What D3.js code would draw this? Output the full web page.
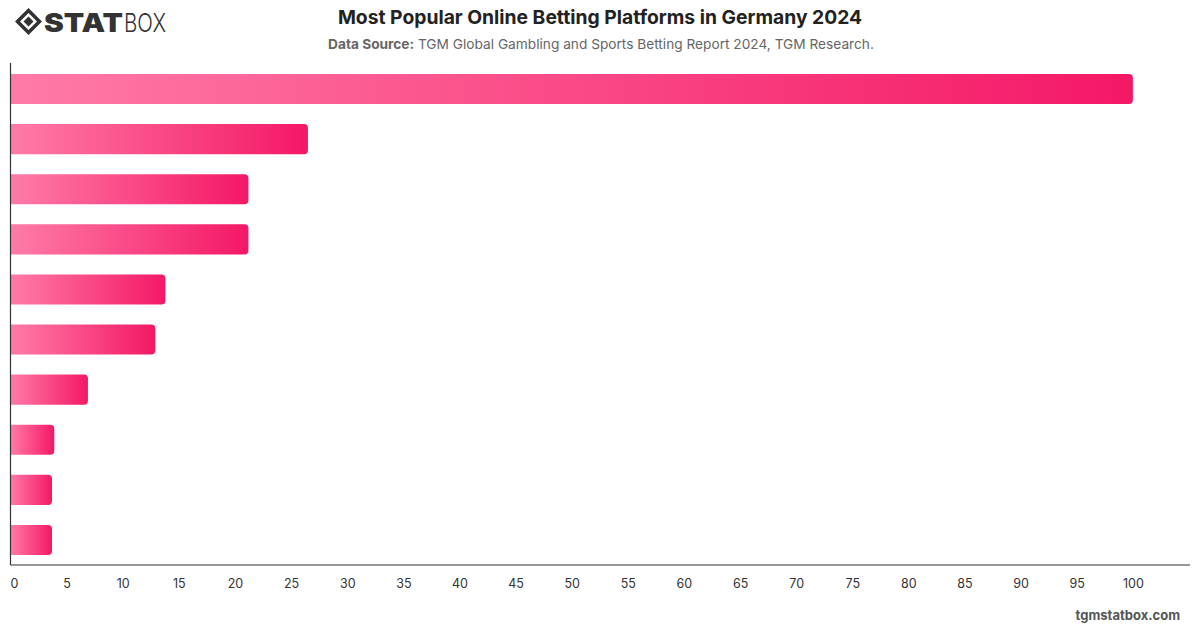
<!DOCTYPE html>
<html><head><meta charset="utf-8">
<script src="https://cdn.jsdelivr.net/npm/d3@7"></script>
<style>
html,body{margin:0;padding:0;background:#fff;}
svg{display:block;font-family:Inter,"Liberation Sans",Arial,sans-serif;}
</style></head>
<body>
<svg id="chart" width="1200" height="628"></svg>
<script>
const categories = ["Platform 1","Platform 2","Platform 3","Platform 4","Platform 5","Platform 6","Platform 7","Platform 8","Platform 9","Platform 10"];
const values = [100, 26.5, 21.2, 21.2, 13.8, 12.9, 6.9, 3.9, 3.7, 3.7];
const tickValues = [0,5,10,15,20,25,30,35,40,45,50,55,60,65,70,75,80,85,90,95,100];
const title = "Most Popular Online Betting Platforms in Germany 2024";
const sourceLabel = "Data Source:";
const sourceText = " TGM Global Gambling and Sports Betting Report 2024, TGM Research.";

const svg = d3.select("#chart");
const pLeft = 10.5, pRight = 1189, pTop = 64, pBottom = 565;

const x = d3.scaleLinear().domain([0,105]).range([pLeft,pRight]);
const y = d3.scaleBand().domain(categories).range([pTop,pBottom]).paddingInner(0.4).paddingOuter(0.2);

const defs = svg.append("defs");
const grad = defs.append("linearGradient").attr("id","barGrad")
  .attr("x1","0%").attr("x2","100%").attr("y1","0%").attr("y2","0%");
grad.append("stop").attr("offset","0%").attr("stop-color","#ff7ba7");
grad.append("stop").attr("offset","100%").attr("stop-color","#f41866");

// bars with rounded right corners
const rad = 4;
svg.append("g").selectAll("path").data(values).join("path")
  .attr("fill","url(#barGrad)")
  .attr("d",(d,i)=>{
    const x0 = x(0), x1 = x(d), y0 = y(categories[i]), h = y.bandwidth();
    const rr = Math.min(rad,(x1-x0)/2);
    return `M${x0},${y0}H${x1-rr}Q${x1},${y0} ${x1},${y0+rr}V${y0+h-rr}Q${x1},${y0+h} ${x1-rr},${y0+h}H${x0}Z`;
  });

// axes
svg.append("line").attr("x1",pLeft).attr("x2",pLeft).attr("y1",pTop-1).attr("y2",pBottom)
  .attr("stroke","#333").attr("stroke-width",1.2);
svg.append("line").attr("x1",pLeft).attr("x2",pRight+1).attr("y1",pBottom).attr("y2",pBottom)
  .attr("stroke","#333").attr("stroke-width",1.2);

const xAxis = d3.axisBottom(x).tickValues(tickValues).tickSize(0).tickPadding(0);
const gx = svg.append("g").attr("transform",`translate(0,${pBottom})`).call(xAxis);
gx.select(".domain").remove();
gx.selectAll("text").attr("y",23).attr("dy","0").attr("font-size",12.5)
  .attr("fill","#333").attr("font-family","Inter,'Liberation Sans',Arial,sans-serif")
  .attr("dx",d=>d===0?3.5:0);

// title
svg.append("text").attr("x",600).attr("y",24).attr("text-anchor","middle")
  .attr("font-size",19.3).attr("font-weight",700).attr("fill","#222").text(title);
const sub = svg.append("text").attr("x",601).attr("y",49).attr("text-anchor","middle")
  .attr("font-size",13.7).attr("fill","#666");
sub.append("tspan").attr("font-weight",700).text(sourceLabel);
sub.append("tspan").text(sourceText);

// footer
svg.append("text").attr("x",1180).attr("y",620).attr("text-anchor","end")
  .attr("font-size",13).attr("font-weight",700).attr("fill","#555").text("tgmstatbox.com");

// logo
const logo = svg.append("g").attr("transform","translate(15,8)");
logo.append("path").attr("d","M13.5,0 L27,13.5 L13.5,27 L0,13.5 Z M13.5,5 L5,13.5 L13.5,22 L22,13.5 Z")
  .attr("fill","#333").attr("fill-rule","evenodd");
logo.append("path").attr("d","M13.5,8.5 L18.5,13.5 L13.5,18.5 L8.5,13.5 Z").attr("fill","#333");
logo.append("text").attr("x",29).attr("y",23.5).attr("font-size",26).attr("font-weight",900)
  .attr("fill","#333").attr("textLength",79).attr("lengthAdjust","spacingAndGlyphs").text("STAT");
logo.append("text").attr("x",109).attr("y",23.5).attr("font-size",26).attr("font-weight",300)
  .attr("fill","#333").attr("textLength",42).attr("lengthAdjust","spacingAndGlyphs").text("BOX");
</script>
</body></html>
